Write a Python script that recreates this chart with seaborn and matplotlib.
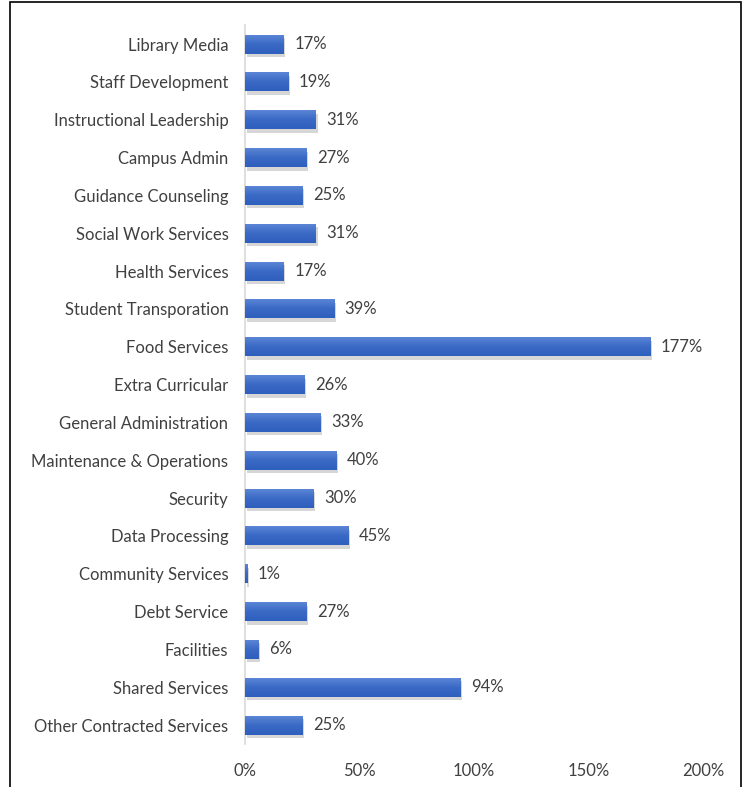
import matplotlib
matplotlib.use("Agg")
import matplotlib.pyplot as plt
import matplotlib.patheffects as pe
from matplotlib.patches import Rectangle
from matplotlib.colors import LinearSegmentedColormap
import numpy as np
import seaborn as sns
import pandas as pd

categories = ["Library Media", "Staff Development", "Instructional Leadership", "Campus Admin",
              "Guidance Counseling", "Social Work Services", "Health Services",
              "Student Transporation", "Food Services", "Extra Curricular",
              "General Administration", "Maintenance & Operations", "Security",
              "Data Processing", "Community Services", "Debt Service", "Facilities",
              "Shared Services", "Other Contracted Services"]
values = [17, 19, 31, 27, 25, 31, 17, 39, 177, 26, 33, 40, 30, 45, 1, 27, 6, 94, 25]
tick_values = [0, 50, 100, 150, 200]
tick_labels = ["0%", "50%", "100%", "150%", "200%"]

df = pd.DataFrame({"category": categories, "value": values})

sns.set_theme(style="white")
plt.rcParams["font.family"] = ["Lato", "DejaVu Sans"]
text_color = "#404040"

fig = plt.figure(figsize=(7.52, 7.87), dpi=100)
ax = fig.add_axes([0.326, 0.0546, 0.609, 0.9134])

sns.barplot(data=df, x="value", y="category", orient="h", color="#4472C4",
            saturation=1, width=0.5, ax=ax, zorder=3)

grad_cmap = LinearSegmentedColormap.from_list("bar", ["#5B86D6", "#3A69C5", "#2F5FBE"])
grad = np.linspace(0, 1, 64).reshape(-1, 1)
for p in list(ax.patches):
    p.set_facecolor("#3E6DC6")
    p.set_edgecolor("none")
    p.set_path_effects([pe.SimplePatchShadow(offset=(1.0, -2.5), shadow_rgbFace="#8a8a8a", alpha=0.35),
                        pe.Normal()])
    x0, y0 = p.get_x(), p.get_y()
    w, h = p.get_width(), p.get_height()
    im = ax.imshow(grad, cmap=grad_cmap, aspect="auto",
                   extent=(x0, x0 + w, y0 + h, y0), origin="upper", zorder=4)
    im.set_clip_path(p)

for i, v in enumerate(values):
    ax.text(v + 4.5, i, f"{v}%", va="center", ha="left", fontsize=12, color=text_color)

ax.set_xlim(0, 200)
ax.set_ylim(len(categories) - 0.5, -0.5)
ax.set_xticks(tick_values)
ax.set_xticklabels(tick_labels)
ax.set_xlabel("")
ax.set_ylabel("")
ax.tick_params(axis="both", length=0, labelsize=12, colors=text_color)
ax.tick_params(axis="y", pad=12)
ax.tick_params(axis="x", pad=14)
for s in ["top", "right", "bottom"]:
    ax.spines[s].set_visible(False)
ax.spines["left"].set_color("#d9d9d9")
ax.spines["left"].set_linewidth(1.2)
ax.grid(False)

fig.patches.append(Rectangle((10 / 752, -0.01), 731 / 752, 1 - 2 / 787 + 0.01,
                             transform=fig.transFigure, fill=False, edgecolor="black",
                             linewidth=1.2, zorder=10))

fig.savefig("out.png", dpi=100)
